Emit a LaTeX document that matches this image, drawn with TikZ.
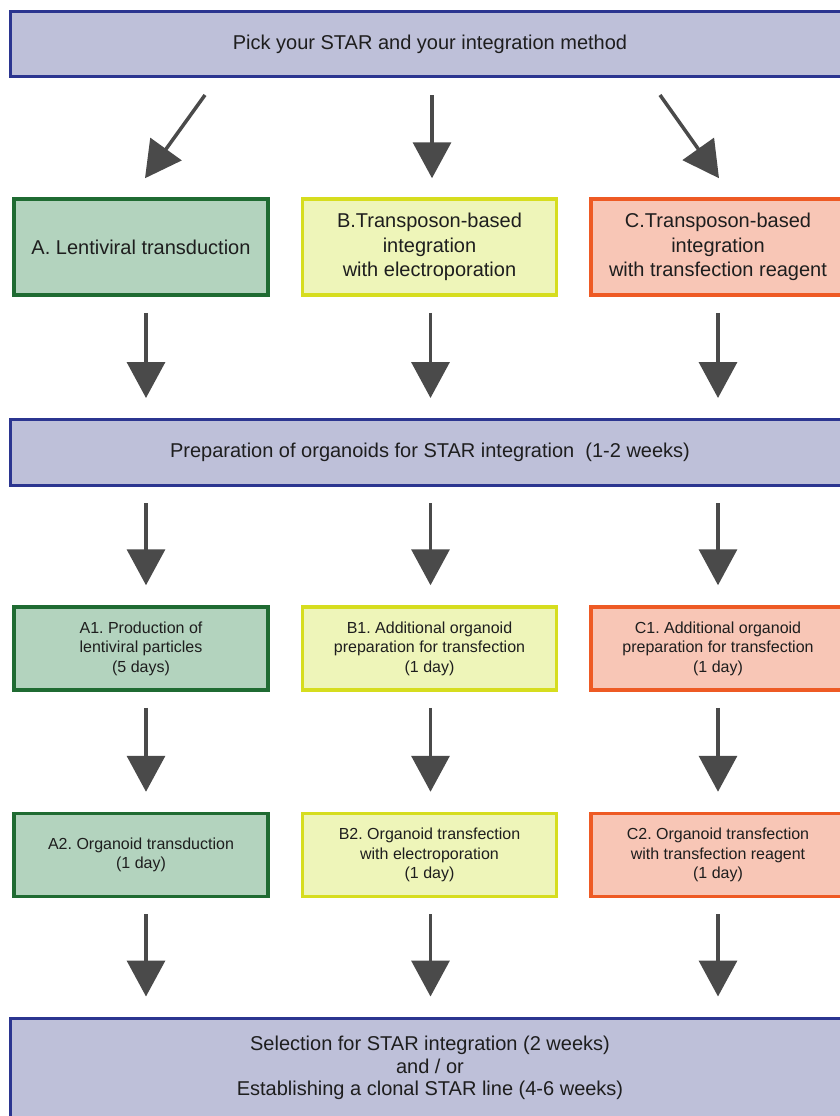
\documentclass[tikz,border=0pt]{standalone}
\usepackage{fontspec}
\setmainfont{Liberation Sans}
\usepackage{xcolor}
\usepackage{tikz}
\usetikzlibrary{arrows.meta, positioning, calc}
\frenchspacing
\definecolor{bluefill}{HTML}{BEC0D9}
\definecolor{blueline}{HTML}{2B3590}
\definecolor{grnfill}{HTML}{B3D3BE}
\definecolor{grnline}{HTML}{1F6B32}
\definecolor{ylwfill}{HTML}{EEF5B9}
\definecolor{ylwline}{HTML}{D6DD1E}
\definecolor{orgfill}{HTML}{F8C6B6}
\definecolor{orgline}{HTML}{EE5A24}
\definecolor{arrgray}{HTML}{4A4A4A}
\definecolor{txt}{HTML}{1E1E1E}
\tikzset{
  wide/.style={rectangle, draw=blueline, line width=3pt, fill=bluefill,
               minimum width=839pt, minimum height=65pt, align=center,
               text=txt, font=\fontsize{20}{24.5}\selectfont},
  big/.style={rectangle, line width=3.5pt, minimum width=254pt,
              minimum height=96pt, align=center, text=txt,
              font=\fontsize{20}{24.5}\selectfont},
  small/.style={rectangle, line width=3.5pt, minimum width=254pt,
                minimum height=83pt, align=center, text=txt,
                font=\fontsize{16}{19.5}\selectfont},
  grn/.style={draw=grnline, fill=grnfill},
  ylw/.style={draw=ylwline, fill=ylwfill},
  org/.style={draw=orgline, fill=orgfill},
  arr/.style={-{Triangle[length=36pt,width=38pt]}, line width=3.5pt,
              draw=arrgray, shorten <=16pt, shorten >=20pt},
}

\begin{document}
\begin{tikzpicture}[x=1pt, y=-1pt, node distance=31pt]
  \useasboundingbox (0,0) rectangle (840,1116);
  \node[wide] (pick) at (430,44) {Pick your STAR and your integration method};
  \node[big, grn] (lenti) at (141,247) {A. Lentiviral transduction};
  \node[big, ylw, right=of lenti] (elec) {B.Transposon-based\\integration\\with electroporation};
  \node[big, org, right=of elec] (reag) {C.Transposon-based\\integration\\with transfection reagent};
  \node[wide, minimum height=66pt] (prep) at (430,452.5)
    {Preparation of organoids for STAR integration \ (1-2 weeks)};
  \node[small, grn] (A1) at (141,648.5) {A1. Production of\\lentiviral particles\\(5 days)};
  \node[small, ylw, right=of A1] (B1) {B1. Additional organoid\\preparation for transfection\\(1 day)};
  \node[small, org, right=of B1] (C1) {C1. Additional organoid\\preparation for transfection\\(1 day)};
  \node[small, grn] (A2) at (141,855) {A2. Organoid transduction\\(1 day)};
  \node[small, ylw, right=of A2] (B2) {B2. Organoid transfection\\with electroporation\\(1 day)};
  \node[small, org, right=of B2] (C2) {C2. Organoid transfection\\with transfection reagent\\(1 day)};
  \node[wide, minimum height=100pt, font=\fontsize{20}{22.5}\selectfont] (sel) at (430,1068)
    {Selection for STAR integration (2 weeks)\\and / or\\Establishing a clonal STAR line (4-6 weeks)};
  \draw[arr, shorten <=0pt, shorten >=0pt]
    ([xshift=-225pt,yshift=-17pt]pick.south) -- ([xshift=4pt,yshift=19pt]lenti.north);
  \draw[arr, shorten <=17pt, shorten >=19pt] ([xshift=2pt]pick.south) -- ([xshift=2pt]pick.south |- elec.north);
  \draw[arr, shorten <=0pt, shorten >=0pt]
    ([xshift=230pt,yshift=-17pt]pick.south) -- ([xshift=1pt,yshift=19pt]reag.north);
  \foreach \a/\s in {lenti/5pt,elec/1pt,reag/0pt}
    \draw[arr] ([xshift=\s]\a.south) -- ([xshift=\s]\a.south |- prep.north);
  \foreach \b/\s in {A1/5pt,B1/1pt,C1/0pt}
    \draw[arr] ([xshift=\s]\b.north |- prep.south) -- ([xshift=\s]\b.north);
  \foreach \a/\b/\s in {A1/A2/5pt,B1/B2/1pt,C1/C2/0pt}
    \draw[arr] ([xshift=\s]\a.south) -- ([xshift=\s]\b.north);
  \foreach \a/\s in {A2/5pt,B2/1pt,C2/0pt}
    \draw[arr] ([xshift=\s]\a.south) -- ([xshift=\s]\a.south |- sel.north);
\end{tikzpicture}
\end{document}
